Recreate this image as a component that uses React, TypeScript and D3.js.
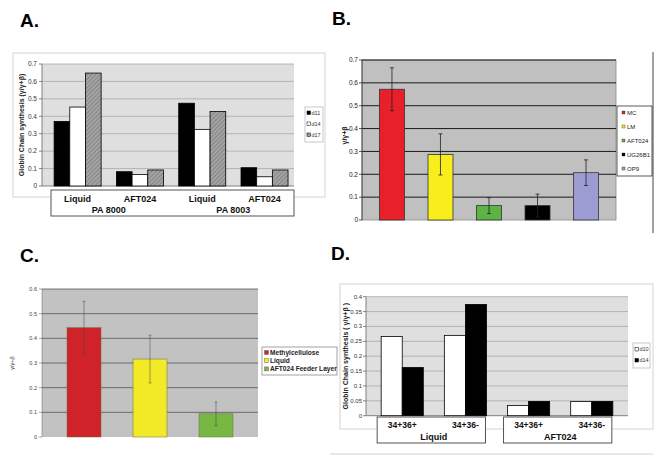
import React from 'react';
import * as d3 from 'd3';

const FONT = "'Liberation Sans', Arial, Helvetica, sans-serif";

// ---------- Panel A data ----------
const aCategories = ['Liquid', 'AFT024', 'Liquid', 'AFT024'];
const aGroups = ['PA 8000', 'PA 8003'];
const aSeries = ['d11', 'd14', 'd17'];
const aD11 = [0.37, 0.082, 0.475, 0.105];
const aD14 = [0.453, 0.066, 0.325, 0.053];
const aD17 = [0.648, 0.092, 0.428, 0.092];
const aTicks = [0, 0.1, 0.2, 0.3, 0.4, 0.5, 0.6, 0.7];

// ---------- Panel B data ----------
const bCategories = ['MC', 'LM', 'AFT024', 'UG26B1', 'OP9'];
const bValues = [0.572, 0.287, 0.063, 0.063, 0.207];
const bErrors = [0.094, 0.09, 0.035, 0.05, 0.056];
const bColors = ['#e8202a', '#f7ee1c', '#5db344', '#000000', '#9d9cd2'];
const bTicks = [0, 0.1, 0.2, 0.3, 0.4, 0.5, 0.6, 0.7];

// ---------- Panel C data ----------
const cCategories = ['Methylcellulose', 'Liquid', 'AFT024 Feeder Layer'];
const cValues = [0.443, 0.316, 0.094];
const cErrors = [0.107, 0.097, 0.048];
const cColors = ['#cf2229', '#f2e927', '#77b844'];
const cTicks = [0, 0.1, 0.2, 0.3, 0.4, 0.5, 0.6];

// ---------- Panel D data ----------
const dCategories = ['34+36+', '34+36-', '34+36+', '34+36-'];
const dGroups = ['Liquid', 'AFT024'];
const dSeries = ['d10', 'd14'];
const dD10 = [0.266, 0.27, 0.034, 0.048];
const dD14 = [0.162, 0.374, 0.048, 0.048];
const dTicks = [0, 0.05, 0.1, 0.15, 0.2, 0.25, 0.3, 0.35, 0.4];

const fmt = (v: number) => String(Math.round(v * 100) / 100);

function PanelLabel({ x, y, text }: { x: number; y: number; text: string }) {
  return (
    <text x={x} y={y} fontFamily={FONT} fontWeight="bold" fontSize={19} fill="#000">
      {text}
    </text>
  );
}

function PanelA() {
  const L = 42, R = 294, T = 64, B = 186;
  const y = d3.scaleLinear().domain([0, 0.7]).range([B, T]);
  const x = d3.scaleBand<number>().domain(d3.range(aCategories.length)).range([L, R])
    .paddingInner(0.245).paddingOuter(0.145).align(0.67);
  const xs = d3.scaleBand<string>().domain(aSeries).range([0, x.bandwidth()]);
  const series = [aD11, aD14, aD17];
  const fills = ['#000', '#fff', 'url(#hatchA)'];
  return (
    <g fontFamily={FONT}>
      <rect x={13} y={53} width={312} height={144} fill="#fff" stroke="#d4d4d4" />
      <rect x={L} y={T} width={R - L} height={B - T} fill="#dfdfdf" />
      {aTicks.map((t) => (
        <g key={t}>
          {t > 0 && <line x1={L} x2={R} y1={y(t)} y2={y(t)} stroke="#a8a8a8" strokeWidth={0.8} />}
          <line x1={L - 3} x2={L} y1={y(t)} y2={y(t)} stroke="#666" strokeWidth={0.8} />
          <text x={L - 5} y={y(t) + 2.3} fontSize={6.5} textAnchor="end" fill="#333">{fmt(t)}</text>
        </g>
      ))}
      <line x1={L} x2={L} y1={T} y2={B} stroke="#666" strokeWidth={0.8} />
      <line x1={L} x2={R} y1={B} y2={B} stroke="#666" strokeWidth={0.8} />
      {series.map((vals, si) =>
        vals.map((v, ci) => (
          <rect key={si + '-' + ci} x={(x(ci) as number) + (xs(aSeries[si]) as number)} y={y(v)}
            width={xs.bandwidth()} height={B - y(v)} fill={fills[si]} stroke="#000" strokeWidth={0.8} />
        ))
      )}
      <text transform={`translate(24,${(T + B) / 2}) rotate(-90)`} fontSize={7} fontWeight="bold"
        textAnchor="middle" fill="#222">Globin Chain synthesis (γ/γ+β)</text>
      {/* legend */}
      <rect x={305} y={107} width={18} height={35} fill="#fff" stroke="#bbb" strokeWidth={0.8} />
      {aSeries.map((s, i) => (
        <g key={s}>
          <rect x={307} y={111 + i * 11} width={3.5} height={3.5} fill={fills[i]} stroke="#000" strokeWidth={0.5} />
          <text x={311.5} y={114.5 + i * 11} fontSize={5.5} fill="#333">{s}</text>
        </g>
      ))}
      {/* category table */}
      <rect x={51} y={190} width={R - 51} height={26} fill="#fff" stroke="#555" strokeWidth={1} />
      {aCategories.map((c, i) => (
        <text key={i} x={(x(i) as number) + x.bandwidth() / 2} y={202} fontSize={9} fontWeight="bold"
          textAnchor="middle" fill="#111">{c}</text>
      ))}
      {aGroups.map((g, i) => (
        <text key={g} x={((x(i * 2) as number) + (x(i * 2 + 1) as number) + x.bandwidth()) / 2} y={213}
          fontSize={9} fontWeight="bold" textAnchor="middle" fill="#111">{g}</text>
      ))}
    </g>
  );
}

function PanelB() {
  const L = 362, R = 616, T = 60, B = 220;
  const y = d3.scaleLinear().domain([0, 0.7]).range([B, T]);
  const x = d3.scaleBand<string>().domain(bCategories).range([L, R]).paddingInner(0.485).paddingOuter(0.36);
  return (
    <g fontFamily={FONT}>
      <rect x={L} y={T} width={R - L} height={B - T} fill="#c0c0c0" stroke="#8a8a8a" strokeWidth={0.8} />
      {bTicks.map((t) => (
        <g key={t}>
          {t > 0 && <line x1={L} x2={R} y1={y(t)} y2={y(t)} stroke="#1a1a1a" strokeWidth={1} />}
          <line x1={L - 3} x2={L} y1={y(t)} y2={y(t)} stroke="#333" strokeWidth={0.8} />
          <text x={L - 4} y={y(t) + 2.3} fontSize={6.5} textAnchor="end" fill="#222">{fmt(t)}</text>
        </g>
      ))}
      <line x1={L} x2={L} y1={T} y2={B} stroke="#333" strokeWidth={0.8} />
      {bCategories.map((c, i) => {
        const x0 = x(c) as number;
        const cx = x0 + x.bandwidth() / 2;
        return (
          <g key={c}>
            <rect x={x0} y={y(bValues[i])} width={x.bandwidth()} height={B - y(bValues[i])}
              fill={bColors[i]} stroke="#333" strokeWidth={0.8} />
            <line x1={cx} x2={cx} y1={y(bValues[i] + bErrors[i])} y2={y(bValues[i] - bErrors[i])} stroke="#222" strokeWidth={0.8} />
            <line x1={cx - 2} x2={cx + 2} y1={y(bValues[i] + bErrors[i])} y2={y(bValues[i] + bErrors[i])} stroke="#222" strokeWidth={0.8} />
            <line x1={cx - 2} x2={cx + 2} y1={y(bValues[i] - bErrors[i])} y2={y(bValues[i] - bErrors[i])} stroke="#222" strokeWidth={0.8} />
          </g>
        );
      })}
      <text transform={`translate(347,${y(0.37)}) rotate(-90)`} fontSize={7} fontWeight="bold"
        textAnchor="middle" fill="#111">γ/γ+β</text>
      <line x1={653} x2={653} y1={52} y2={233} stroke="#444" strokeWidth={1} />
      <rect x={617} y={106} width={35} height={70} fill="#fff" stroke="#333" strokeWidth={0.8} />
      {bCategories.map((c, i) => (
        <g key={c}>
          <rect x={622} y={111 + i * 14} width={3} height={3} fill={bColors[i]} stroke="#333" strokeWidth={0.4} />
          <text x={627} y={114.5 + i * 14} fontSize={6} fill="#222">{c}</text>
        </g>
      ))}
    </g>
  );
}

function PanelC() {
  const L = 42, R = 258, T = 289, B = 437;
  const y = d3.scaleLinear().domain([0, 0.6]).range([B, T]);
  const x = d3.scaleBand<string>().domain(cCategories).range([L, R]).paddingInner(0.485).paddingOuter(0.379);
  return (
    <g fontFamily={FONT}>
      <rect x={L} y={T} width={R - L} height={B - T} fill="#c2c2c2" />
      {cTicks.map((t) => (
        <g key={t}>
          {t > 0 && <line x1={L} x2={R} y1={y(t)} y2={y(t)} stroke="#555" strokeWidth={0.8} />}
          <line x1={L - 3} x2={L} y1={y(t)} y2={y(t)} stroke="#666" strokeWidth={0.6} />
          <text x={L - 5} y={y(t) + 2} fontSize={5.5} textAnchor="end" fill="#444">{fmt(t)}</text>
        </g>
      ))}
      <line x1={L} x2={L} y1={T} y2={B} stroke="#777" strokeWidth={0.6} />
      {cCategories.map((c, i) => {
        const x0 = x(c) as number;
        const cx = x0 + x.bandwidth() / 2;
        return (
          <g key={c}>
            <rect x={x0} y={y(cValues[i])} width={x.bandwidth()} height={B - y(cValues[i])}
              fill={cColors[i]} stroke="#6a6a40" strokeWidth={0.5} />
            <line x1={cx} x2={cx} y1={y(cValues[i] + cErrors[i])} y2={y(cValues[i] - cErrors[i])} stroke="#444" strokeWidth={0.5} />
            <line x1={cx - 1.5} x2={cx + 1.5} y1={y(cValues[i] + cErrors[i])} y2={y(cValues[i] + cErrors[i])} stroke="#444" strokeWidth={0.5} />
            <line x1={cx - 1.5} x2={cx + 1.5} y1={y(cValues[i] - cErrors[i])} y2={y(cValues[i] - cErrors[i])} stroke="#444" strokeWidth={0.5} />
          </g>
        );
      })}
      <text transform={`translate(14,${y(0.3)}) rotate(-90)`} fontSize={5.5}
        textAnchor="middle" fill="#444">γ/γ+β</text>
      <rect x={262} y={347} width={75} height={28} fill="#fff" stroke="#8a8a8a" strokeWidth={0.8} />
      {cCategories.map((c, i) => (
        <g key={c}>
          <rect x={264.5} y={350.5 + i * 8.2} width={4} height={4} fill={cColors[i]} stroke="#555" strokeWidth={0.4} />
          <text x={270} y={354.5 + i * 8.2} fontSize={6.6} fontWeight="bold" fill="#222">{c}</text>
        </g>
      ))}
    </g>
  );
}

function PanelD() {
  const L = 366, R = 628, T = 296.7, B = 415.7;
  const y = d3.scaleLinear().domain([0, 0.4]).range([B, T]);
  const x = d3.scaleBand<number>().domain(d3.range(dCategories.length)).range([L, R])
    .paddingInner(0.333).paddingOuter(0.24);
  const xs = d3.scaleBand<string>().domain(dSeries).range([0, x.bandwidth()]);
  const series = [dD10, dD14];
  const fills = ['#fff', '#000'];
  return (
    <g fontFamily={FONT}>
      <rect x={340} y={284} width={313} height={145} fill="#fff" stroke="#d4d4d4" />
      <rect x={L} y={T} width={R - L} height={B - T} fill="#dfdfdf" />
      {dTicks.map((t) => (
        <g key={t}>
          {t > 0 && <line x1={L} x2={R} y1={y(t)} y2={y(t)} stroke="#a8a8a8" strokeWidth={0.8} />}
          <line x1={L - 3} x2={L} y1={y(t)} y2={y(t)} stroke="#666" strokeWidth={0.8} />
          <text x={L - 4} y={y(t) + 2} fontSize={6} textAnchor="end" fill="#333">{fmt(t)}</text>
        </g>
      ))}
      <line x1={L} x2={L} y1={T} y2={B} stroke="#666" strokeWidth={0.8} />
      <line x1={L} x2={R} y1={B} y2={B} stroke="#666" strokeWidth={0.8} />
      {series.map((vals, si) =>
        vals.map((v, ci) => (
          <rect key={si + '-' + ci} x={(x(ci) as number) + (xs(dSeries[si]) as number)} y={y(v)}
            width={xs.bandwidth()} height={B - y(v)} fill={fills[si]} stroke="#000" strokeWidth={0.8} />
        ))
      )}
      <text transform={`translate(348,${(T + B) / 2}) rotate(-90)`} fontSize={7} fontWeight="bold"
        textAnchor="middle" fill="#222">Globin Chain synthesis ( γ/γ+β )</text>
      <rect x={633} y={343} width={17} height={25} fill="#fff" stroke="#bbb" strokeWidth={0.8} />
      {dSeries.map((s, i) => (
        <g key={s}>
          <rect x={635} y={347.5 + i * 11} width={3.5} height={3.5} fill={fills[i]} stroke="#000" strokeWidth={0.5} />
          <text x={639.5} y={351 + i * 11} fontSize={5.5} fill="#333">{s}</text>
        </g>
      ))}
      {dGroups.map((g, gi) => {
        const x0 = x(gi * 2) as number;
        const x1 = (x(gi * 2 + 1) as number) + x.bandwidth();
        return (
          <g key={g}>
            <rect x={x0 - 4} y={417} width={x1 - x0 + 3} height={26} fill="#fff" stroke="#555" strokeWidth={1} />
            {[0, 1].map((k) => (
              <text key={k} x={(x(gi * 2 + k) as number) + x.bandwidth() / 2} y={428} fontSize={8.5}
                fontWeight="bold" textAnchor="middle" fill="#111">{dCategories[gi * 2 + k]}</text>
            ))}
            <text x={(x0 + x1) / 2} y={440} fontSize={9} fontWeight="bold" textAnchor="middle" fill="#111">{g}</text>
          </g>
        );
      })}
      <line x1={330} x2={653} y1={454} y2={454} stroke="#d0d0d0" strokeWidth={1} />
    </g>
  );
}

export default function App() {
  return (
    <svg width={659} height={458} viewBox="0 0 659 458"
      style={{ position: 'absolute', left: 0, top: 0, background: '#fff' }}>
      <defs>
        <pattern id="hatchA" width={3} height={3} patternUnits="userSpaceOnUse" patternTransform="rotate(45)">
          <rect width={3} height={3} fill="#a4a4a4" />
          <line x1={0} y1={0} x2={0} y2={3} stroke="#6e6e6e" strokeWidth={1.2} />
        </pattern>
      </defs>
      <rect width={659} height={458} fill="#fff" />
      <PanelLabel x={20} y={27} text="A." />
      <PanelLabel x={332} y={25} text="B." />
      <PanelLabel x={20} y={262} text="C." />
      <PanelLabel x={331} y={260} text="D." />
      <PanelA />
      <PanelB />
      <PanelD />
      <PanelC />
    </svg>
  );
}
